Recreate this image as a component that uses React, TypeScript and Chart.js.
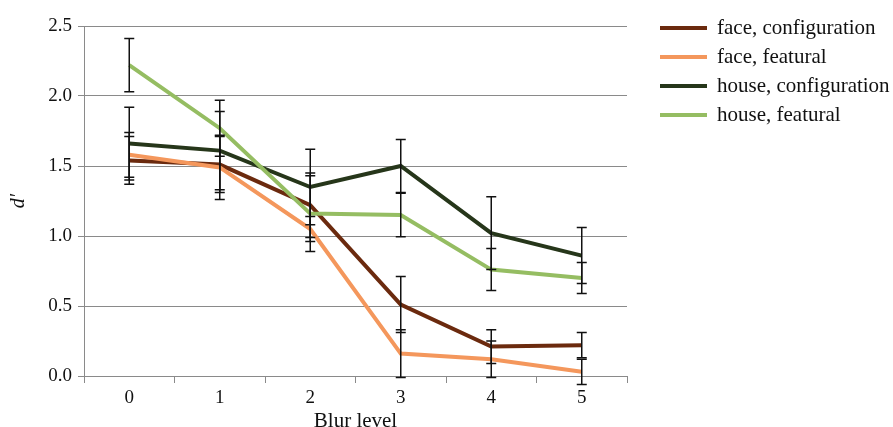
import { useEffect, useRef } from "react";
import { Chart, registerables } from "chart.js";

Chart.register(...registerables);

const categories = ["0", "1", "2", "3", "4", "5"];
const seriesNames = ["face, configuration", "face, featural", "house, configuration", "house, featural"];
const seriesColors = ["#6B2A0E", "#F4975C", "#26361A", "#95BD62"];

const faceConfig = [1.54, 1.51, 1.22, 0.51, 0.21, 0.22];
const faceFeatural = [1.58, 1.49, 1.05, 0.16, 0.12, 0.03];
const houseConfig = [1.66, 1.61, 1.35, 1.5, 1.02, 0.86];
const houseFeatural = [2.22, 1.77, 1.16, 1.15, 0.76, 0.7];

const faceConfigErr = [0.17, 0.2, 0.23, 0.2, 0.12, 0.09];
const faceFeaturalErr = [0.16, 0.23, 0.09, 0.17, 0.13, 0.09];
const houseConfigErr = [0.26, 0.28, 0.27, 0.19, 0.26, 0.2];
const houseFeaturalErr = [0.19, 0.2, 0.27, 0.155, 0.15, 0.11];

const yTicks = [0, 0.5, 1.0, 1.5, 2.0, 2.5];

const seriesValues = [faceConfig, faceFeatural, houseConfig, houseFeatural];
const seriesErrors = [faceConfigErr, faceFeaturalErr, houseConfigErr, houseFeaturalErr];

const FONT = "'Liberation Serif', 'Times New Roman', serif";

const errorBarPlugin = {
  id: "errorBars",
  afterDatasetsDraw(chart: any) {
    const ctx = chart.ctx;
    const yScale = chart.scales.y;
    ctx.save();
    ctx.strokeStyle = "#111";
    ctx.lineWidth = 1.5;
    chart.data.datasets.forEach((ds: any, i: number) => {
      const meta = chart.getDatasetMeta(i);
      const errs = seriesErrors[i];
      meta.data.forEach((pt: any, j: number) => {
        const v = ds.data[j];
        const e = errs[j];
        const x = pt.x;
        const yt = yScale.getPixelForValue(v + e);
        const yb = yScale.getPixelForValue(v - e);
        ctx.beginPath();
        ctx.moveTo(x, yt);
        ctx.lineTo(x, yb);
        ctx.moveTo(x - 5, yt);
        ctx.lineTo(x + 5, yt);
        ctx.moveTo(x - 5, yb);
        ctx.lineTo(x + 5, yb);
        ctx.stroke();
      });
    });
    ctx.restore();
  },
};

const legendPlugin = {
  id: "sideLegend",
  afterDraw(chart: any) {
    const ctx = chart.ctx;
    ctx.save();
    ctx.font = `21px ${FONT}`;
    ctx.textBaseline = "middle";
    ctx.textAlign = "left";
    seriesNames.forEach((name, i) => {
      const y = 28 + i * 29;
      ctx.strokeStyle = seriesColors[i];
      ctx.lineWidth = 4;
      ctx.beginPath();
      ctx.moveTo(660, y);
      ctx.lineTo(707, y);
      ctx.stroke();
      ctx.fillStyle = "#111";
      ctx.fillText(name, 717, y);
    });
    ctx.restore();
  },
};

export default function App() {
  const canvasRef = useRef<HTMLCanvasElement | null>(null);

  useEffect(() => {
    const canvas = canvasRef.current;
    if (!canvas) return;
    const chart = new Chart(canvas, {
      type: "line",
      data: {
        labels: categories,
        datasets: seriesValues.map((vals, i) => ({
          label: seriesNames[i],
          data: vals,
          borderColor: seriesColors[i],
          backgroundColor: seriesColors[i],
          borderWidth: 4,
          pointRadius: 0,
          tension: 0,
          fill: false,
          order: 4 - i,
        })),
      },
      options: {
        responsive: false,
        animation: false,
        layout: { padding: { top: 26, right: 266, left: 0, bottom: 0 } },
        plugins: {
          legend: { display: false },
          tooltip: { enabled: false },
        },
        scales: {
          x: {
            type: "category",
            offset: true,
            afterFit: (s: any) => {
              s.height = 51;
            },
            grid: {
              offset: true,
              drawOnChartArea: false,
              drawTicks: true,
              tickLength: 7,
              color: "#8a8a8a",
              lineWidth: 1,
            },
            border: { display: true, color: "#8a8a8a", width: 1 },
            ticks: {
              color: "#111",
              font: { family: FONT, size: 19 },
              padding: 4,
              maxRotation: 0,
            },
            title: {
              display: true,
              text: "Blur level",
              color: "#111",
              font: { family: FONT, size: 21, lineHeight: 0.5 },
              padding: { top: 0, bottom: 0 },
            },
          },
          y: {
            min: 0,
            max: 2.5,
            afterFit: (s: any) => {
              s.width = 84;
            },
            afterBuildTicks: (s: any) => {
              s.ticks = yTicks.map((v) => ({ value: v }));
            },
            grid: {
              drawTicks: true,
              tickLength: 6,
              color: "#8a8a8a",
              lineWidth: 1,
            },
            border: { display: true, color: "#8a8a8a", width: 1 },
            ticks: {
              color: "#111",
              font: { family: FONT, size: 19 },
              padding: 6,
              callback: (v: any) => Number(v).toFixed(1),
            },
            title: {
              display: true,
              text: "d\u2032",
              color: "#111",
              font: { family: FONT, size: 20, style: "italic", lineHeight: 1 },
              padding: { top: 9, bottom: 0 },
            },
          },
        },
      },
      plugins: [errorBarPlugin, legendPlugin],
    });
    return () => chart.destroy();
  }, []);

  return (
    <div style={{ position: "absolute", left: 0, top: 0, width: 893, height: 427, background: "#fff" }}>
      <canvas ref={canvasRef} width={893} height={427} style={{ display: "block" }} />
    </div>
  );
}
